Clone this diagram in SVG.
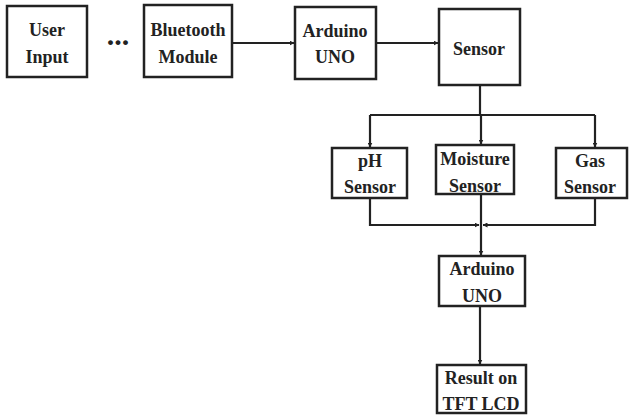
<svg xmlns="http://www.w3.org/2000/svg" width="630" height="418" viewBox="0 0 630 418">
<defs>
<marker id="ah" viewBox="0 0 10 10" refX="9" refY="5" markerWidth="5" markerHeight="5" orient="auto" markerUnits="userSpaceOnUse">
<path d="M0,0 L10,5 L0,10 z" fill="#222"/>
</marker>
</defs>
<style>
.box{fill:#fff;stroke:#222;stroke-width:2.5}
.t{font-family:"Liberation Serif","Times New Roman",serif;font-weight:bold;font-size:18px;fill:#222;text-anchor:middle}
.c{fill:none;stroke:#222;stroke-width:2.2}
</style>
<rect width="630" height="418" fill="#fff"/>
<g id="connectors">
<line class="c" x1="232" y1="43" x2="294" y2="43" marker-end="url(#ah)"/>
<line class="c" x1="376" y1="43" x2="438" y2="43" marker-end="url(#ah)"/>
<polyline class="c" points="480,85 480,115"/>
<polyline class="c" points="370,115 595,115"/>
<line class="c" x1="370" y1="115" x2="370" y2="147" marker-end="url(#ah)"/>
<line class="c" x1="481" y1="115" x2="481" y2="144" marker-end="url(#ah)"/>
<line class="c" x1="595" y1="115" x2="595" y2="147" marker-end="url(#ah)"/>
<polyline class="c" points="370,198 370,225 479,225" marker-end="url(#ah)"/>
<polyline class="c" points="595,198 595,225 483,225" marker-end="url(#ah)"/>
<line class="c" x1="481" y1="194" x2="481" y2="255" marker-end="url(#ah)"/>
<line class="c" x1="480" y1="306" x2="480" y2="364" marker-end="url(#ah)"/>
</g>
<g id="user-input">
<rect class="box" x="7" y="6" width="80" height="71"/>
<text class="t" x="47" y="36">User</text>
<text class="t" x="47" y="63">Input</text>
</g>
<g id="dots">
<text class="t" x="118" y="45" style="font-size:30px">...</text>
</g>
<g id="bluetooth">
<rect class="box" x="144" y="5" width="88" height="72"/>
<text class="t" x="188" y="36">Bluetooth</text>
<text class="t" x="188" y="63">Module</text>
</g>
<g id="arduino1">
<rect class="box" x="295" y="7" width="81" height="72"/>
<text class="t" x="335" y="37">Arduino</text>
<text class="t" x="335" y="63">UNO</text>
</g>
<g id="sensor">
<rect class="box" x="439" y="9" width="81" height="76"/>
<text class="t" x="479" y="55">Sensor</text>
</g>
<g id="ph">
<rect class="box" x="332" y="148" width="75" height="50"/>
<text class="t" x="370" y="167">pH</text>
<text class="t" x="370" y="193">Sensor</text>
</g>
<g id="moisture">
<rect class="box" x="436" y="145" width="78" height="49"/>
<text class="t" x="475" y="165">Moisture</text>
<text class="t" x="475" y="192">Sensor</text>
</g>
<g id="gas">
<rect class="box" x="556" y="148" width="71" height="50"/>
<text class="t" x="590" y="167">Gas</text>
<text class="t" x="590" y="193">Sensor</text>
</g>
<g id="arduino2">
<rect class="box" x="439" y="256" width="86" height="50"/>
<text class="t" x="482" y="275">Arduino</text>
<text class="t" x="482" y="302">UNO</text>
</g>
<g id="result">
<rect class="box" x="437" y="365" width="89" height="48"/>
<text class="t" x="481" y="384">Result on</text>
<text class="t" x="481" y="410">TFT LCD</text>
</g>
</svg>
